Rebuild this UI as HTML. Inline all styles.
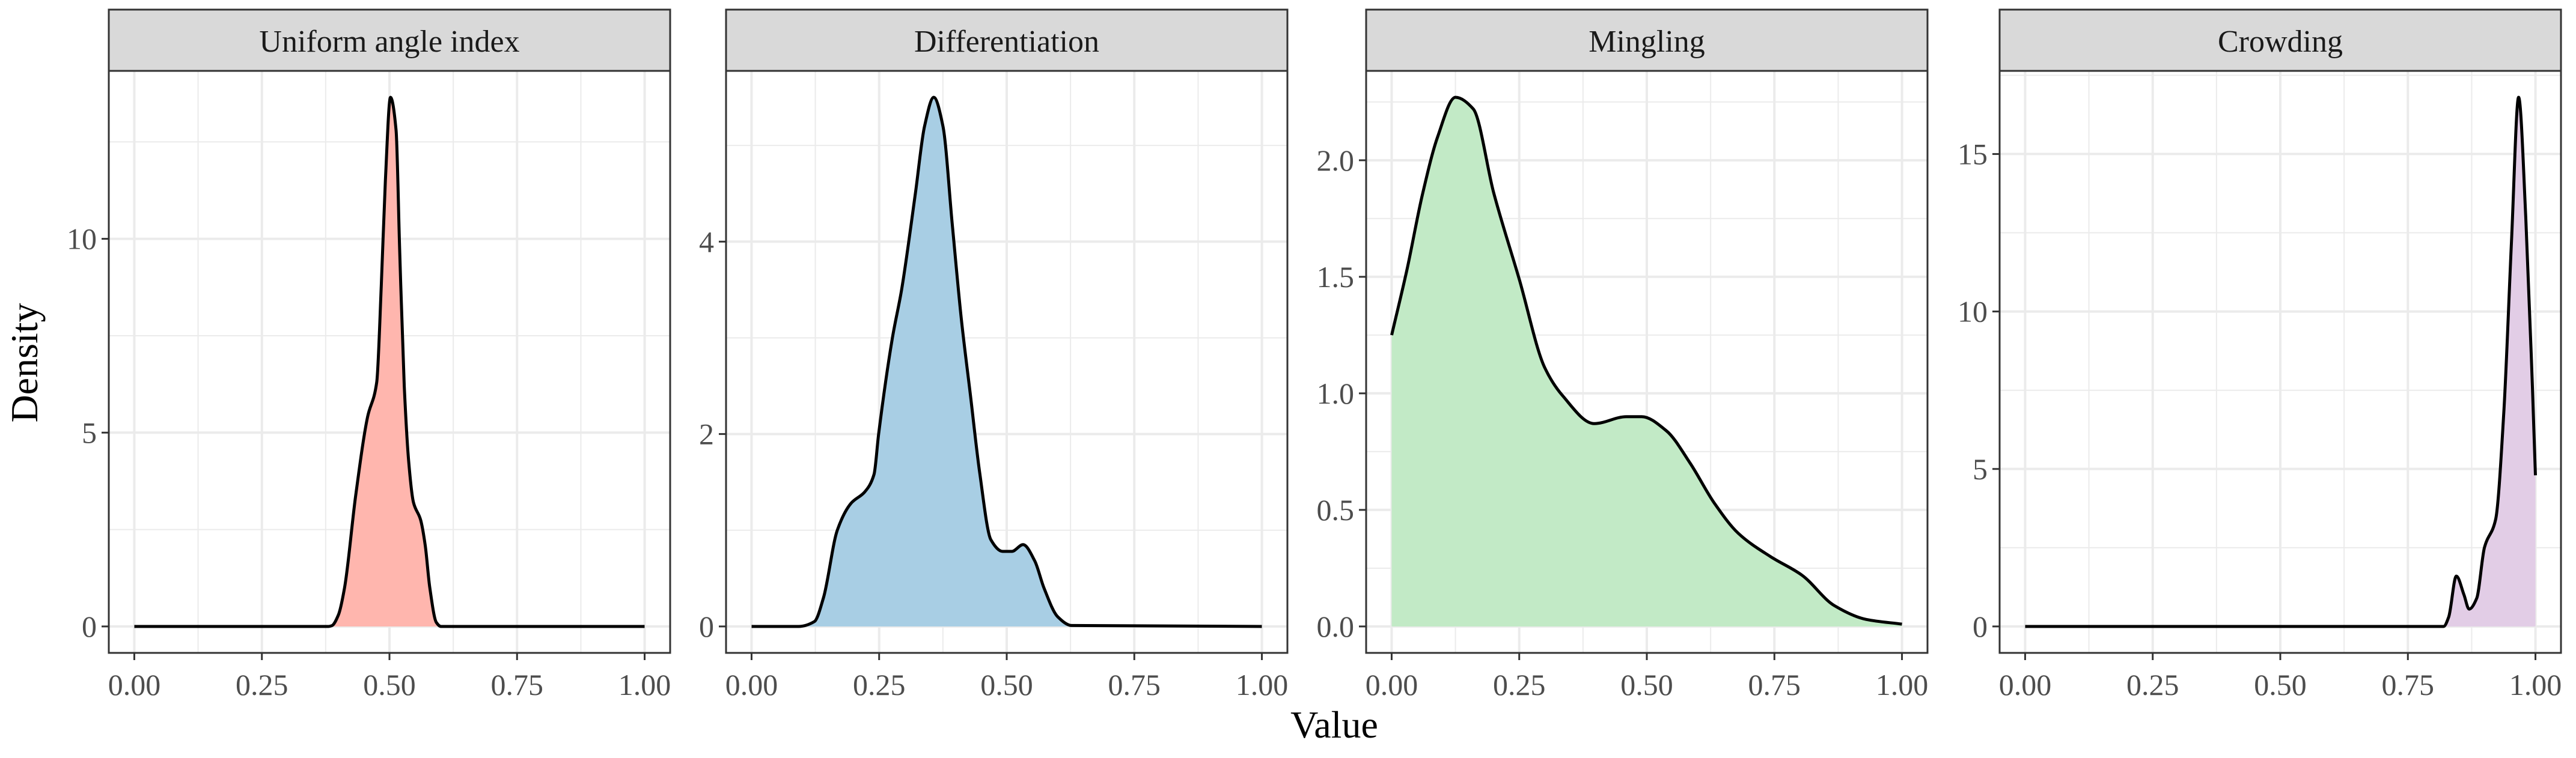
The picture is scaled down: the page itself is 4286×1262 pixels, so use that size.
<!DOCTYPE html>
<html><head><meta charset="utf-8"><style>
html,body{margin:0;padding:0;background:#fff}
svg{display:block}
text{font-family:"Liberation Serif",serif}
</style></head><body>
<svg id="chart" width="4286" height="1262" viewBox="0 0 4286 1262" xmlns="http://www.w3.org/2000/svg">
<text x="62" y="604" font-size="64" text-anchor="middle" transform="rotate(-90 62 604)" fill="#000">Density</text>
<text x="2220" y="1228" font-size="64" text-anchor="middle" fill="#000">Value</text>
</svg>
<script>
const panelTitles = ["Uniform angle index","Differentiation","Mingling","Crowding"];
const fills = ["#ffb6ae","#a8cee4","#c2eac6","#e2cde6"];
const xTicks = [0,0.25,0.5,0.75,1];
const xTickLabels = ["0.00","0.25","0.50","0.75","1.00"];
const yTicksU = [0,5,10];
const yTickLabelsU = ["0","5","10"];
const yTicksD = [0,2,4];
const yTickLabelsD = ["0","2","4"];
const yTicksM = [0,0.5,1,1.5,2];
const yTickLabelsM = ["0.0","0.5","1.0","1.5","2.0"];
const yTicksC = [0,5,10,15];
const yTickLabelsC = ["0","5","10","15"];
const uniX = [0,0.38,0.387,0.40,0.412,0.434,0.457,0.475,0.484,0.492,0.502,0.513,0.520,0.529,0.538,0.547,0.561,0.570,0.579,0.592,0.601,1];
const uniY = [0,0,0.02,0.3,1.0,3.4,5.4,6.3,8.8,11.5,13.65,12.8,9.7,6.2,4.2,3.2,2.75,2.1,1.0,0.1,0,0];
const difX = [0,0.092,0.123,0.141,0.168,0.195,0.222,0.240,0.249,0.276,0.294,0.321,0.339,0.357,0.375,0.393,0.411,0.429,0.447,0.469,0.492,0.510,0.532,0.555,0.573,0.600,0.627,1];
const difY = [0,0,0.05,0.3,1.0,1.28,1.4,1.58,2.0,3.0,3.5,4.5,5.2,5.5,5.2,4.2,3.2,2.4,1.6,0.9,0.78,0.78,0.85,0.68,0.4,0.1,0.01,0];
const minX = [0,0.03,0.06,0.09,0.125,0.16,0.2,0.25,0.3,0.335,0.397,0.46,0.49,0.538,0.585,0.632,0.679,0.742,0.804,0.867,0.93,1];
const minY = [1.25,1.53,1.85,2.1,2.27,2.22,1.86,1.49,1.11,0.99,0.87,0.90,0.90,0.84,0.70,0.53,0.40,0.30,0.22,0.09,0.03,0.01];
const croX = [0,0.82,0.83,0.845,0.86,0.87,0.885,0.9,0.922,0.938,0.953,0.967,0.981,0.994,1];
const croY = [0,0,0.3,1.6,1.0,0.55,0.9,2.5,3.4,6.8,12.2,16.8,13,7.6,4.8];

const seriesX = [uniX,difX,minX,croX];
const seriesY = [uniY,difY,minY,croY];
const yTicksAll = [yTicksU,yTicksD,yTicksM,yTicksC];
const yLabAll = [yTickLabelsU,yTickLabelsD,yTickLabelsM,yTickLabelsC];
const panelLeft = [181,1208,2273,3327];
const panelW = 934, plotTop = 118, plotBot = 1087, stripTop = 16;
const svg = document.getElementById('chart');
const NS = "http://www.w3.org/2000/svg";
function mk(tag, attrs, parent){const e=document.createElementNS(NS,tag);for(const k in attrs)e.setAttribute(k,attrs[k]);(parent||svg).appendChild(e);return e;}
function monotone(P){
  const n=P.length, dx=[], s=[], m=new Array(n);
  for(let i=0;i<n-1;i++){dx[i]=P[i+1][0]-P[i][0]; s[i]=(P[i+1][1]-P[i][1])/dx[i];}
  m[0]=s[0]; m[n-1]=s[n-2];
  for(let i=1;i<n-1;i++){
    if(s[i-1]*s[i]<=0) m[i]=0;
    else { const w1=2*dx[i]+dx[i-1], w2=dx[i]+2*dx[i-1]; m[i]=(w1+w2)/(w1/s[i-1]+w2/s[i]); }
  }
  let d='M'+P[0][0].toFixed(1)+','+P[0][1].toFixed(1);
  for(let i=0;i<n-1;i++){
    const h=dx[i]/3;
    d+=' C'+(P[i][0]+h).toFixed(1)+','+(P[i][1]+m[i]*h).toFixed(1)+' '+(P[i+1][0]-h).toFixed(1)+','+(P[i+1][1]-m[i+1]*h).toFixed(1)+' '+P[i+1][0].toFixed(1)+','+P[i+1][1].toFixed(1);
  }
  return d;
}

for(let p=0;p<4;p++){
  const L=panelLeft[p], R=L+panelW;
  const sx = v => L + (panelW/1.1)*(0.05 + v);
  const ymax = Math.max(...seriesY[p]);
  const h = plotBot-plotTop;
  const sy = v => plotBot - (h/1.1)*(0.05 + v/ymax);
  const g = mk('g',{});
  
  
  for(let i=0;i<xTicks.length-1;i++){
    const ln=mk('line',{x1:sx((xTicks[i]+xTicks[i+1])/2),x2:sx((xTicks[i]+xTicks[i+1])/2),y1:plotTop,y2:plotBot,stroke:'#ebebeb','stroke-width':2},g);
    
    
  }
  const yt=yTicksAll[p], step=yt[1]-yt[0];
  for(let v=yt[0]+step/2; v<=ymax*1.05; v+=step){
    const ln=mk('line',{x1:L,x2:R,y1:sy(v),y2:sy(v),stroke:'#ebebeb','stroke-width':2},g);
    
    
  }
  xTicks.forEach((t,i)=>{
    const ln=mk('line',{x1:sx(t),x2:sx(t),y1:plotTop,y2:plotBot,stroke:'#ebebeb','stroke-width':4},g);
    
    
    const tk=mk('line',{x1:sx(t),x2:sx(t),y1:plotBot,y2:plotBot+12,stroke:'#333','stroke-width':3},g);
    
    
    const tx=mk('text',{x:sx(t),y:1157,'font-size':50,'text-anchor':'middle',fill:'#4d4d4d'},g);
    tx.textContent=xTickLabels[i];
    
    
  });
  yt.forEach((t,i)=>{
    const ln=mk('line',{x1:L,x2:R,y1:sy(t),y2:sy(t),stroke:'#ebebeb','stroke-width':4},g);
    
    
    const tk=mk('line',{x1:L-12,x2:L,y1:sy(t),y2:sy(t),stroke:'#333','stroke-width':3},g);
    
    
    const tx=mk('text',{x:L-20,y:sy(t)+17,'font-size':50,'text-anchor':'end',fill:'#4d4d4d'},g);
    tx.textContent=yLabAll[p][i];
    
    
  });
  const X=seriesX[p], Y=seriesY[p];
  const P=X.map((x,i)=>[sx(x),sy(Y[i])]);
  const d=monotone(P);
  const area=mk('path',{d:d+' L'+P[P.length-1][0].toFixed(1)+','+sy(0).toFixed(1)+' L'+P[0][0].toFixed(1)+','+sy(0).toFixed(1)+' Z',fill:fills[p],stroke:'none'},g);
  
  
  const line=mk('path',{d:d,fill:'none',stroke:'#000','stroke-width':5,'stroke-linejoin':'round'},g);
  
  
  const border=mk('rect',{x:L,y:plotTop,width:panelW,height:plotBot-plotTop,fill:'none',stroke:'#333','stroke-width':3},g);
  
  
  const strip=mk('rect',{x:L,y:stripTop,width:panelW,height:plotTop-stripTop,fill:'#d9d9d9',stroke:'#333','stroke-width':3},g);
  
  
  const st=mk('text',{x:L+panelW/2,y:86,'font-size':52,'text-anchor':'middle',fill:'#1a1a1a'},g);
  st.textContent=panelTitles[p];
  
  
}
</script>
</body></html>
